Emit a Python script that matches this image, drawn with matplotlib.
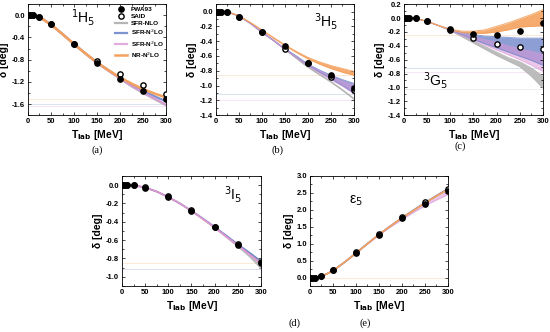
import matplotlib
matplotlib.use("Agg")
import matplotlib.pyplot as plt
from matplotlib.ticker import MultipleLocator

plt.rcParams['font.family'] = ['Liberation Sans', 'DejaVu Sans']

# data points (PWA93 filled, SAID open)
T_pts = [1, 5, 10, 25, 50, 100, 150, 200, 250, 300]
a_pwa = [0, 0, 0, -0.03, -0.16, -0.52, -0.86, -1.15, -1.36, -1.51]
a_said = [0, 0, 0, -0.03, -0.16, -0.51, -0.83, -1.06, -1.26, -1.42]
b_pwa = [0, 0, 0, -0.005, -0.07, -0.27, -0.47, -0.69, -0.86, -1.03]
b_said = [0, 0, 0, -0.005, -0.07, -0.27, -0.50, -0.70, -0.89, -1.06]
c_pwa = [0, 0, 0, -0.005, -0.04, -0.165, -0.23, -0.24, -0.19, -0.07]
c_said = [0, 0, 0, -0.005, -0.045, -0.17, -0.29, -0.37, -0.42, -0.44]
d_pwa = [0, 0, 0, -0.002, -0.03, -0.13, -0.28, -0.46, -0.65, -0.84]
d_said = [0, 0, 0, -0.002, -0.02, -0.12, -0.27, -0.455, -0.645, -0.85]
e_pwa = [0, 0, 0, 0.04, 0.21, 0.72, 1.26, 1.75, 2.18, 2.56]
e_said = [0, 0, 0, 0.04, 0.22, 0.74, 1.28, 1.78, 2.23, 2.62]

# theory bands on this energy grid
Tc = [0, 10, 25, 50, 75, 100, 125, 150, 175, 200, 225, 250, 275, 300]

a_nlo = [0, 0, -0.03, -0.17, -0.34, -0.52, -0.69, -0.86, -1.00, -1.14, -1.28, -1.40, -1.51, -1.62]
a_sfr2 = [0, 0, -0.03, -0.17, -0.34, -0.52, -0.69, -0.85, -0.99, -1.13, -1.25, -1.36, -1.46, -1.55]
a_sfr3 = [0, 0, -0.03, -0.17, -0.34, -0.52, -0.69, -0.86, -1.00, -1.14, -1.27, -1.39, -1.50, -1.61]
a_nr = [0, 0, -0.03, -0.17, -0.34, -0.52, -0.69, -0.85, -0.99, -1.12, -1.23, -1.33, -1.41, -1.48]

b_nlo = [0, 0, -0.005, -0.06, -0.16, -0.28, -0.39, -0.51, -0.63, -0.75, -0.85, -0.95, -1.06, -1.18]
b_sfr2_hi = [0, 0, -0.005, -0.06, -0.16, -0.28, -0.39, -0.50, -0.60, -0.71, -0.79, -0.86, -0.92, -0.97]
b_sfr2_lo = [0, 0, -0.005, -0.06, -0.16, -0.28, -0.39, -0.51, -0.62, -0.73, -0.82, -0.91, -1.00, -1.10]
b_sfr3_hi = [0, 0, -0.005, -0.06, -0.16, -0.28, -0.39, -0.51, -0.61, -0.72, -0.80, -0.875, -0.94, -0.99]
b_sfr3_lo = [0, 0, -0.005, -0.06, -0.16, -0.28, -0.39, -0.51, -0.62, -0.735, -0.83, -0.92, -1.01, -1.11]
b_nr_hi = [0, 0, -0.005, -0.06, -0.15, -0.25, -0.35, -0.45, -0.54, -0.62, -0.68, -0.73, -0.77, -0.81]
b_nr_lo = [0, 0, -0.005, -0.06, -0.15, -0.25, -0.36, -0.46, -0.555, -0.64, -0.71, -0.77, -0.82, -0.86]

c_nlo_hi = [0, 0, -0.005, -0.05, -0.11, -0.17, -0.25, -0.33, -0.41, -0.49, -0.57, -0.63, -0.72, -0.84]
c_nlo_lo = [0, 0, -0.005, -0.05, -0.11, -0.18, -0.27, -0.36, -0.45, -0.54, -0.62, -0.70, -0.84, -1.01]
c_sfr2_hi = [0, 0, -0.005, -0.05, -0.11, -0.17, -0.21, -0.24, -0.26, -0.27, -0.28, -0.29, -0.29, -0.29]
c_sfr2_lo = [0, 0, -0.005, -0.05, -0.11, -0.18, -0.24, -0.31, -0.37, -0.43, -0.49, -0.55, -0.61, -0.68]
c_sfr3_hi = [0, 0, -0.005, -0.05, -0.11, -0.17, -0.22, -0.27, -0.31, -0.35, -0.40, -0.44, -0.48, -0.52]
c_sfr3_lo = [0, 0, -0.005, -0.05, -0.11, -0.18, -0.25, -0.32, -0.39, -0.46, -0.53, -0.60, -0.68, -0.77]
c_nr_hi = [0, 0, -0.005, -0.05, -0.11, -0.16, -0.19, -0.19, -0.17, -0.12, -0.07, -0.01, 0.05, 0.12]
c_nr_lo = [0, 0, -0.005, -0.05, -0.11, -0.17, -0.21, -0.22, -0.22, -0.20, -0.17, -0.13, -0.12, -0.11]

d_nlo_hi = [0, 0, -0.002, -0.025, -0.07, -0.13, -0.20, -0.28, -0.37, -0.46, -0.56, -0.655, -0.755, -0.86]
d_nlo_lo = [0, 0, -0.002, -0.025, -0.07, -0.13, -0.20, -0.28, -0.375, -0.47, -0.57, -0.67, -0.78, -0.91]
d_sfr2 = [0, 0, -0.002, -0.025, -0.07, -0.13, -0.20, -0.28, -0.365, -0.455, -0.55, -0.645, -0.735, -0.83]
d_sfr3 = [0, 0, -0.002, -0.025, -0.07, -0.13, -0.20, -0.28, -0.37, -0.46, -0.56, -0.655, -0.755, -0.86]
d_nr = [0, 0, -0.002, -0.025, -0.07, -0.13, -0.20, -0.28, -0.37, -0.46, -0.555, -0.65, -0.745, -0.84]

e_nlo = [0, 0, 0.03, 0.2, 0.45, 0.72, 1.0, 1.27, 1.52, 1.76, 1.98, 2.2, 2.41, 2.6]
e_sfr2 = [0, 0, 0.03, 0.2, 0.45, 0.72, 1.0, 1.27, 1.52, 1.76, 1.99, 2.21, 2.42, 2.62]
e_sfr3_hi = [0, 0, 0.03, 0.2, 0.45, 0.72, 1.0, 1.27, 1.52, 1.76, 1.98, 2.2, 2.41, 2.6]
e_sfr3_lo = [0, 0, 0.03, 0.2, 0.45, 0.72, 0.99, 1.25, 1.49, 1.71, 1.92, 2.12, 2.29, 2.45]
e_nr = [0, 0, 0.03, 0.2, 0.45, 0.72, 1.0, 1.27, 1.52, 1.76, 1.98, 2.2, 2.41, 2.6]

# faint horizontal guide lines seen in each panel
a_guides = [-1.50, -1.60, -1.64]
b_guides = [-0.86, -1.12, -1.20]
c_guides = [-0.24, -0.72, -0.78, -1.02]
d_guides = [-0.85, -0.91]
e_guides = [0.0]

labels = ['PWA93', 'SAID', 'SFR-NLO', 'SFR-N$^2$LO', 'SFR-N$^2$LO', 'NR-N$^2$LO']
col_nlo = '#b5b5b5'
col_sfr2 = '#6f86c9'
col_sfr3 = '#dc98d8'
col_nr = '#f4a15e'
guide_cols = ['#f4a15e', '#6f86c9', '#dc98d8', '#b5b5b5']

fig = plt.figure(figsize=(5.5, 3.32), dpi=100)


def band(ax, lo, hi, color, alpha):
    ax.fill_between(Tc, lo, hi, color=color, alpha=alpha, lw=0)
    ax.plot(Tc, lo, color=color, lw=0.7, alpha=alpha)
    ax.plot(Tc, hi, color=color, lw=0.7, alpha=alpha)


def setup(ax, ylim, ystep, guides):
    ax.set_xlim(0, 300)
    ax.set_ylim(*ylim)
    ax.xaxis.set_major_locator(MultipleLocator(50))
    ax.xaxis.set_minor_locator(MultipleLocator(25))
    ax.yaxis.set_major_locator(MultipleLocator(ystep))
    ax.yaxis.set_minor_locator(MultipleLocator(ystep / 2))
    ax.tick_params(which='both', direction='in', top=True, right=True,
                   labelsize=5.5, width=0.5, pad=2)
    ax.tick_params(which='major', length=2.5)
    ax.tick_params(which='minor', length=1.5)
    ax.yaxis.set_major_formatter(plt.FuncFormatter(lambda v, p: '%.1f' % (0 if abs(v) < 1e-9 else v)))
    for lab in ax.get_xticklabels() + ax.get_yticklabels():
        lab.set_fontweight('bold')
    for s in ax.spines.values():
        s.set_linewidth(0.6)
    for i, g in enumerate(guides):
        ax.axhline(g, color=guide_cols[i % 4], lw=0.5, alpha=0.35, zorder=0)
    ax.set_xlabel('T$_{\\mathbf{lab}}$ [MeV]', fontsize=7.5, fontweight='bold', labelpad=2)
    ax.set_ylabel('δ [deg]', fontsize=7.5, fontweight='bold', labelpad=2)


def points(ax, pwa, said):
    ax.plot(T_pts, pwa, 'o', color='black', ms=3.8, zorder=6)
    ax.plot(T_pts, said, 'o', mfc='white', mec='black', mew=1.0, ms=3.8, zorder=5)


def panel_label(x, y, s):
    fig.text(x, y, s, fontsize=7.5, family='Liberation Serif', ha='center', va='center')


# (a) 1H5
ax = fig.add_axes([0.0509, 0.653, 0.251, 0.3346])
setup(ax, (-1.8, 0.2), 0.4, a_guides)
p1, = ax.plot(T_pts, a_pwa, 'o', color='black', ms=3.8, zorder=6)
p2, = ax.plot(T_pts, a_said, 'o', mfc='white', mec='black', mew=1.0, ms=3.8, zorder=5)
l1, = ax.plot(Tc, a_nlo, color=col_nlo, lw=1.6)
l2, = ax.plot(Tc, a_sfr2, color=col_sfr2, lw=1.6, alpha=0.9)
l3, = ax.plot(Tc, a_sfr3, color=col_sfr3, lw=1.6, alpha=0.8)
l4, = ax.plot(Tc, a_nr, color=col_nr, lw=1.8)
ax.legend([p1, p2, l1, l2, l3, l4], labels, loc='upper left', bbox_to_anchor=(0.63, 0.98),
          frameon=False, handlelength=1.9, handletextpad=0.6,
          labelspacing=0.28, borderpad=0, borderaxespad=0,
          prop={'weight': 'bold', 'size': 4.6})
ax.text(0.40, 0.88, '$^1$H$_5$', transform=ax.transAxes, fontsize=10, ha='center', va='center')
panel_label(0.176, 0.548, '(a)')

# (b) 3H5
ax = fig.add_axes([0.3927, 0.653, 0.2509, 0.3346])
setup(ax, (-1.4, 0.1), 0.2, b_guides)
ax.plot(Tc, b_nlo, color=col_nlo, lw=1.2)
band(ax, b_sfr2_lo, b_sfr2_hi, col_sfr2, 0.8)
band(ax, b_sfr3_lo, b_sfr3_hi, col_sfr3, 0.55)
band(ax, b_nr_lo, b_nr_hi, col_nr, 0.9)
points(ax, b_pwa, b_said)
ax.text(0.80, 0.84, '$^3$H$_5$', transform=ax.transAxes, fontsize=10, ha='center', va='center')
panel_label(0.504, 0.548, '(b)')

# (c) 3G5
ax = fig.add_axes([0.7345, 0.653, 0.2527, 0.3346])
setup(ax, (-1.4, 0.2), 0.2, c_guides)
band(ax, c_nlo_lo, c_nlo_hi, col_nlo, 0.9)
band(ax, c_sfr2_lo, c_sfr2_hi, col_sfr2, 0.8)
band(ax, c_sfr3_lo, c_sfr3_hi, col_sfr3, 0.55)
band(ax, c_nr_lo, c_nr_hi, col_nr, 0.9)
points(ax, c_pwa, c_said)
ax.text(0.23, 0.31, '$^3$G$_5$', transform=ax.transAxes, fontsize=10, ha='center', va='center')
panel_label(0.837, 0.56, '(c)')

# (d) 3I5
ax = fig.add_axes([0.2218, 0.1386, 0.2527, 0.3313])
setup(ax, (-1.1, 0.1), 0.2, d_guides)
band(ax, d_nlo_lo, d_nlo_hi, col_nlo, 0.9)
ax.plot(Tc, d_nr, color=col_nr, lw=1.2)
ax.plot(Tc, d_sfr2, color=col_sfr2, lw=1.2)
ax.plot(Tc, d_sfr3, color=col_sfr3, lw=1.2)
points(ax, d_pwa, d_said)
ax.text(0.80, 0.83, '$^3$I$_5$', transform=ax.transAxes, fontsize=10, ha='center', va='center')
panel_label(0.536, 0.027, '(d)')

# (e) epsilon5
ax = fig.add_axes([0.5636, 0.1386, 0.2509, 0.3313])
setup(ax, (-0.25, 3.0), 0.5, e_guides)
ax.plot(Tc, e_nlo, color=col_nlo, lw=1.2)
ax.plot(Tc, e_sfr2, color=col_sfr2, lw=1.2)
band(ax, e_sfr3_lo, e_sfr3_hi, col_sfr3, 0.55)
ax.plot(Tc, e_nr, color=col_nr, lw=1.2)
points(ax, e_pwa, e_said)
ax.text(0.33, 0.77, 'ε$_5$', transform=ax.transAxes, fontsize=10, ha='center', va='center')
panel_label(0.664, 0.027, '(e)')

fig.savefig('out.png', dpi=100)
